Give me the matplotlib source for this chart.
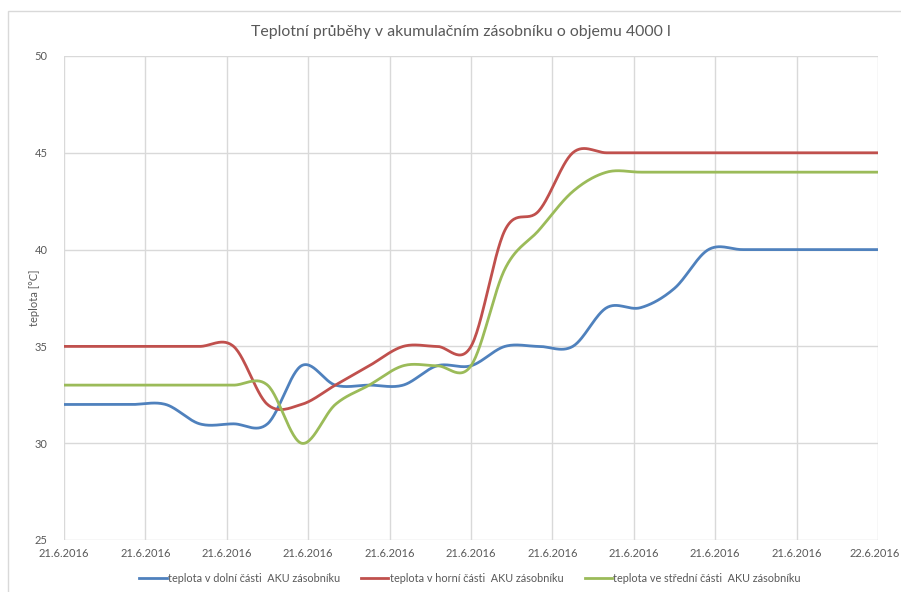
import matplotlib.pyplot as plt
import matplotlib.transforms as mtransforms
import numpy as np
from matplotlib.lines import Line2D
from matplotlib.patches import Rectangle

plt.rcParams['font.family'] = ['Lato', 'DejaVu Sans']

# hodinova mereni 21.6.2016 0:00 .. 22.6.2016 0:00
hours = list(range(25))
t_dolni = [32, 32, 32, 32, 31, 31, 31, 34, 33, 33, 33, 34, 34,
           35, 35, 35, 37, 37, 38, 40, 40, 40, 40, 40, 40]
t_horni = [35, 35, 35, 35, 35, 35, 32, 32, 33, 34, 35, 35, 35,
           41, 42, 45, 45, 45, 45, 45, 45, 45, 45, 45, 45]
t_stredni = [33, 33, 33, 33, 33, 33, 33, 30, 32, 33, 34, 34, 34,
             39, 41, 43, 44, 44, 44, 44, 44, 44, 44, 44, 44]

labels = ['teplota v dolní části  AKU zásobníku',
          'teplota v horní části  AKU zásobníku',
          'teplota ve střední části  AKU zásobníku']
colors = ['#4F81BD', '#C0504D', '#9BBB59']

tick_pos = [2.4 * i for i in range(11)]
tick_labels = ['21.6.2016'] * 10 + ['22.6.2016']
y_ticks = [25, 30, 35, 40, 45, 50]


def smooth(x, y, n=30):
    # vyhlazeni jako v Excelu (Catmull-Rom)
    x = np.asarray(x, float)
    y = np.asarray(y, float)
    xs, ys = [], []
    for i in range(len(x) - 1):
        y0 = y[i - 1] if i > 0 else y[i]
        y3 = y[i + 2] if i + 2 < len(y) else y[i + 1]
        m0 = (y[i + 1] - y0) / 2
        m1 = (y3 - y[i]) / 2
        t = np.linspace(0, 1, n, endpoint=False)
        h00 = 2 * t**3 - 3 * t**2 + 1
        h10 = t**3 - 2 * t**2 + t
        h01 = -2 * t**3 + 3 * t**2
        h11 = t**3 - t**2
        xs.append(x[i] + t * (x[i + 1] - x[i]))
        ys.append(h00 * y[i] + h10 * m0 + h01 * y[i + 1] + h11 * m1)
    xs.append([x[-1]])
    ys.append([y[-1]])
    return np.concatenate(xs), np.concatenate(ys)


fig = plt.figure(figsize=(9.01, 5.92), dpi=100)
ax = fig.add_axes([64 / 901, 1 - 540 / 592, 814 / 901, 484 / 592])

for series, c, lab in zip([t_dolni, t_horni, t_stredni], colors, labels):
    sx, sy = smooth(hours, series)
    ax.plot(sx, sy, color=c, lw=2.0, label=lab, solid_capstyle='round')

ax.set_xlim(0, 24)
ax.set_ylim(25, 50)
ax.set_xticks(tick_pos)
ax.set_xticklabels(tick_labels)
ax.set_yticks(y_ticks)
ax.grid(True, color='#D9D9D9', lw=1)
ax.set_axisbelow(True)
for s in ax.spines.values():
    s.set_visible(False)
ax.tick_params(length=0, colors='#595959', labelsize=8.0, pad=6)
ax.tick_params(axis='y', pad=12)
ax.set_ylabel('teplota [°C]', color='#595959', fontsize=8.0, labelpad=-4)

# posledni popisek trochu doleva, at neni oriznuty
last = ax.get_xticklabels()[-1]
last.set_transform(last.get_transform() + mtransforms.ScaledTranslation(-3 / 100, 0, fig.dpi_scale_trans))

fig.text(461 / 901, 1 - 32 / 592, 'Teplotní průběhy v akumulačním zásobníku o objemu 4000 l',
         ha='center', va='center', fontsize=11.4, color='#595959')

handles = [Line2D([], [], color=c, lw=2.0) for c in colors]
fig.legend(handles, labels, loc='center', bbox_to_anchor=(470 / 901, 1 - 578 / 592),
           ncol=3, frameon=False, fontsize=7.8, labelcolor='#595959',
           handlelength=2.5, handletextpad=0.1, columnspacing=2.0)

fig.patches.append(Rectangle((8 / 901, -0.1), 1.2, 1 - 11 / 592 + 0.1, transform=fig.transFigure,
                             fill=False, edgecolor='#D9D9D9', lw=1))

fig.savefig('out.png', dpi=100)
